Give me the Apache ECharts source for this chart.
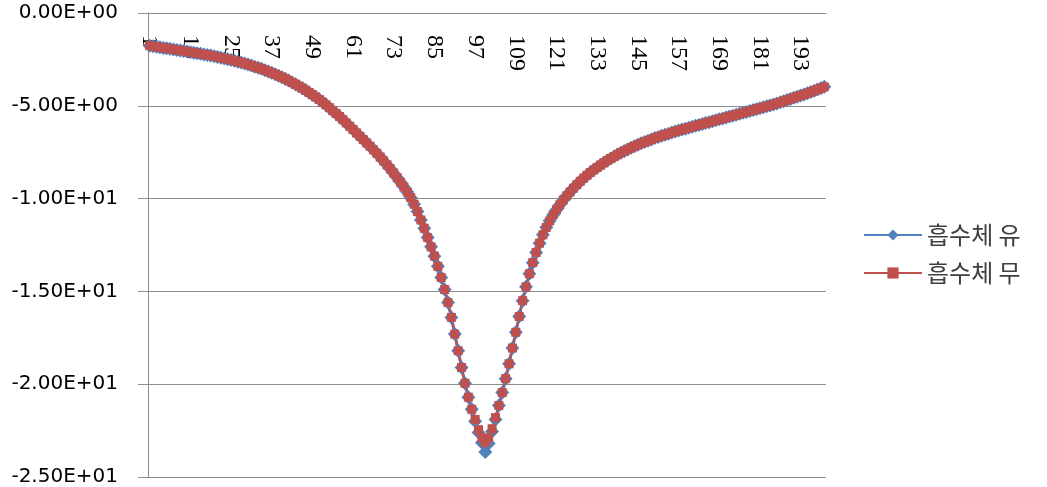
<!DOCTYPE html>
<html>
<head>
<meta charset="utf-8">
<script src="https://cdn.jsdelivr.net/npm/echarts@6/dist/echarts.min.js"></script>
<style>
  html, body { margin: 0; padding: 0; background: #fff; }
  #chart { width: 1047px; height: 487px; }
</style>
</head>
<body>
<div id="chart"></div>
<script>
// x categories 1..200 (sample index)
var categories = Array.from({ length: 200 }, function (_, i) { return String(i + 1) })

var seriesNames = ['흡수체 유', '흡수체 무']

// 흡수체 유 (blue, diamond)
var withAbsorber = [
  -1.76, -1.79, -1.82, -1.85, -1.88, -1.9, -1.93, -1.96, -1.99, -2.02,
  -2.05, -2.08, -2.11, -2.14, -2.17, -2.2, -2.23, -2.26, -2.29, -2.33,
  -2.37, -2.41, -2.45, -2.49, -2.53, -2.57, -2.62, -2.67, -2.72, -2.78,
  -2.83, -2.89, -2.95, -3.01, -3.08, -3.15, -3.22, -3.3, -3.38, -3.46,
  -3.55, -3.64, -3.74, -3.84, -3.94, -4.05, -4.16, -4.28, -4.4, -4.52,
  -4.66, -4.8, -4.95, -5.1, -5.26, -5.42, -5.58, -5.75, -5.92, -6.1,
  -6.28, -6.46, -6.64, -6.82, -7.0, -7.18, -7.37, -7.56, -7.76, -7.97,
  -8.18, -8.4, -8.63, -8.87, -9.12, -9.38, -9.65, -9.95, -10.3, -10.7,
  -11.15, -11.6, -12.1, -12.6, -13.1, -13.65, -14.25, -14.9, -15.6, -16.4,
  -17.3, -18.2, -19.1, -19.95, -20.7, -21.35, -22.0, -22.6, -23.15, -23.65,
  -23.2, -22.55, -21.9, -21.15, -20.45, -19.7, -18.9, -18.05, -17.2, -16.35,
  -15.5, -14.75, -14.05, -13.45, -12.9, -12.4, -11.95, -11.55, -11.2, -10.88,
  -10.6, -10.33, -10.08, -9.85, -9.64, -9.44, -9.25, -9.07, -8.9, -8.74,
  -8.59, -8.45, -8.32, -8.19, -8.07, -7.95, -7.84, -7.73, -7.63, -7.53,
  -7.44, -7.35, -7.26, -7.18, -7.1, -7.02, -6.95, -6.88, -6.81, -6.74,
  -6.68, -6.62, -6.56, -6.5, -6.44, -6.38, -6.33, -6.28, -6.23, -6.18,
  -6.13, -6.08, -6.03, -5.98, -5.93, -5.88, -5.83, -5.78, -5.73, -5.68,
  -5.63, -5.58, -5.53, -5.48, -5.43, -5.38, -5.33, -5.28, -5.23, -5.18,
  -5.13, -5.08, -5.03, -4.98, -4.93, -4.87, -4.81, -4.75, -4.69, -4.63,
  -4.57, -4.51, -4.45, -4.39, -4.33, -4.26, -4.19, -4.12, -4.05, -3.98
]

// 흡수체 무 (red, square)
var withoutAbsorber = [
  -1.76, -1.79, -1.82, -1.85, -1.88, -1.9, -1.93, -1.96, -1.99, -2.02,
  -2.05, -2.08, -2.11, -2.14, -2.17, -2.2, -2.23, -2.26, -2.29, -2.33,
  -2.37, -2.41, -2.45, -2.49, -2.53, -2.57, -2.62, -2.67, -2.72, -2.78,
  -2.83, -2.89, -2.95, -3.01, -3.08, -3.15, -3.22, -3.3, -3.38, -3.46,
  -3.55, -3.64, -3.74, -3.84, -3.94, -4.05, -4.16, -4.28, -4.4, -4.52,
  -4.66, -4.8, -4.95, -5.1, -5.26, -5.42, -5.58, -5.75, -5.92, -6.1,
  -6.28, -6.46, -6.64, -6.82, -7.0, -7.18, -7.37, -7.56, -7.76, -7.97,
  -8.18, -8.4, -8.63, -8.87, -9.12, -9.38, -9.65, -9.95, -10.3, -10.7,
  -11.15, -11.6, -12.1, -12.6, -13.1, -13.65, -14.25, -14.9, -15.6, -16.4,
  -17.3, -18.2, -19.1, -19.95, -20.7, -21.35, -21.9, -22.45, -22.9, -23.15,
  -22.9, -22.4, -21.8, -21.15, -20.45, -19.7, -18.9, -18.05, -17.2, -16.35,
  -15.5, -14.75, -14.05, -13.45, -12.9, -12.4, -11.95, -11.55, -11.2, -10.88,
  -10.6, -10.33, -10.08, -9.85, -9.64, -9.44, -9.25, -9.07, -8.9, -8.74,
  -8.59, -8.45, -8.32, -8.19, -8.07, -7.95, -7.84, -7.73, -7.63, -7.53,
  -7.44, -7.35, -7.26, -7.18, -7.1, -7.02, -6.95, -6.88, -6.81, -6.74,
  -6.68, -6.62, -6.56, -6.5, -6.44, -6.38, -6.33, -6.28, -6.23, -6.18,
  -6.13, -6.08, -6.03, -5.98, -5.93, -5.88, -5.83, -5.78, -5.73, -5.68,
  -5.63, -5.58, -5.53, -5.48, -5.43, -5.38, -5.33, -5.28, -5.23, -5.18,
  -5.13, -5.08, -5.03, -4.98, -4.93, -4.87, -4.81, -4.75, -4.69, -4.63,
  -4.57, -4.51, -4.45, -4.39, -4.33, -4.26, -4.19, -4.12, -4.05, -3.98
]

var yMin = -25
var yMax = 0
var yStep = 5

// excel style 0.00E+00
function sciLabel(v) {
  if (v === 0) return '0.00E+00'
  var exp = Math.floor(Math.log10(Math.abs(v)))
  var mant = v / Math.pow(10, exp)
  var e = Math.abs(exp)
  return mant.toFixed(2) + 'E' + (exp < 0 ? '-' : '+') + (e < 10 ? '0' + e : e)
}

var chart = echarts.init(document.getElementById('chart'))
chart.setOption({
  animation: false,
  grid: {
    left: 148,
    right: 221,
    top: 13,
    bottom: 5
  },
  legend: {
    orient: 'vertical',
    left: 858,
    top: 218,
    itemWidth: 58,
    itemHeight: 14,
    itemGap: 14,
    textStyle: {
      fontFamily: 'Noto Sans CJK KR',
      fontSize: 24,
      color: '#404040'
    },
    data: seriesNames
  },
  xAxis: {
    type: 'category',
    position: 'top',
    data: categories,
    boundaryGap: true,
    axisLine: { onZero: false, lineStyle: { color: '#8c8c8c', width: 1 } },
    axisTick: { inside: true, interval: 0, length: 5, lineStyle: { color: '#8c8c8c' } },
    axisLabel: {
      inside: true,
      interval: 11,
      rotate: 90,
      margin: 22,
      fontFamily: 'Liberation Serif',
      fontSize: 24,
      color: '#000'
    },
    splitLine: { show: false }
  },
  yAxis: {
    type: 'value',
    min: yMin,
    max: yMax,
    interval: yStep,
    axisLine: { show: true, lineStyle: { color: '#8c8c8c', width: 1 } },
    axisTick: { show: true, length: 10, lineStyle: { color: '#8c8c8c' } },
    axisLabel: {
      margin: 30,
      formatter: sciLabel,
      fontFamily: 'DejaVu Sans',
      fontSize: 20,
      color: '#000'
    },
    splitLine: { lineStyle: { color: '#8c8c8c', width: 1 } }
  },
  series: [
    {
      name: seriesNames[0],
      type: 'line',
      data: withAbsorber,
      symbol: 'diamond',
      symbolSize: 14,
      showAllSymbol: true,
      itemStyle: { color: '#4f81bd' },
      lineStyle: { color: '#4f81bd', width: 3 }
    },
    {
      name: seriesNames[1],
      type: 'line',
      data: withoutAbsorber,
      symbol: 'rect',
      symbolSize: 9,
      showAllSymbol: true,
      itemStyle: { color: '#c0504d' },
      lineStyle: { color: '#c0504d', width: 2.5 }
    }
  ]
})
</script>
</body>
</html>
